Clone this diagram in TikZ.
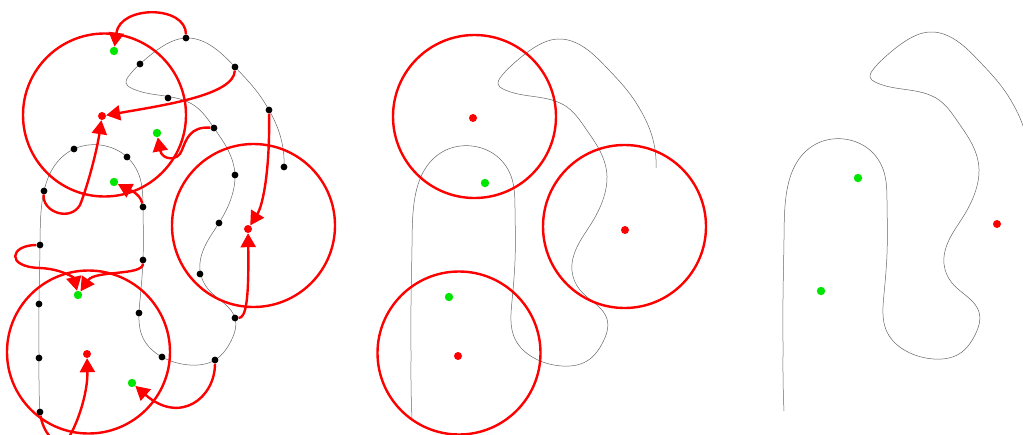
\documentclass[tikz,border=0pt]{standalone}
\usetikzlibrary{arrows.meta,hobby}
\definecolor{gdot}{RGB}{0,230,0}
\definecolor{rdot}{RGB}{255,0,0}
\tikzset{
  curve/.style={draw=black!60, line width=0.5pt},
  bdot/.style={circle, fill=black, inner sep=0pt, minimum size=6.8pt},
  gpt/.style={circle, fill=gdot, inner sep=0pt, minimum size=8.4pt},
  rpt/.style={circle, fill=rdot, inner sep=0pt, minimum size=8pt},
  ring/.style={draw=rdot, line width=2.4pt},
  rarrow/.style={draw=rdot, line width=2.4pt, -{Triangle[length=14pt,width=15pt]}},
}
\begin{document}
\begin{tikzpicture}[x=1pt,y=-1pt]
\useasboundingbox (0,0) rectangle (1023,434);
\clip (0,0) rectangle (1023,434);
% the curve, three times
\foreach \dx/\dy in {0/0,372/1,744/-6}{
  \draw[curve, shift={(\dx,\dy)}, use Hobby shortcut]
    (40,417) .. (39,380) .. (39,358) .. (39,304) .. (40,245) .. (41,212) .. (44,191)
    .. (55,165) .. (74,149) .. (100,145) .. (127,157) .. (140,178) .. (143,207)
    .. (143,260) .. (140,300) .. (139,313) .. (143,338) .. (162,357) .. (190,365)
    .. (215,360) .. (231,341) .. (235,318) .. (226,305) .. (208,289) .. (200,270)
    .. (205,246) .. (219,223) .. (233,192) .. (235,175) .. (228,150) .. (214,128)
    .. (195,106) .. (180,99) .. (158,95) .. (131,88) .. (126,83) .. (128,77)
    .. (140,64) .. (160,48) .. (186,38) .. (210,45) .. (235,67) .. (258,93)
    .. (269,110) .. (280,135) .. (284,167);
}
% panel 1 circles
\draw[ring] (104.5,115) circle (81.5);
\draw[ring] (253.5,225.5) circle (81.5);
\draw[ring] (88.5,352) circle (81.5);
% panel 1 black dots
\node[bdot] (bA) at (186,38) {};
\node[bdot] (bB) at (140,64) {};
\node[bdot] (bC) at (235,67) {};
\node[bdot] (bD) at (168,98) {};
\node[bdot] (bE) at (269,110) {};
\node[bdot] (bF) at (214,128) {};
\node[bdot] (bG) at (74,149) {};
\node[bdot] (bH) at (127,157) {};
\node[bdot] (bI) at (284,167) {};
\node[bdot] (bJ) at (235,175) {};
\node[bdot] (bK) at (44,191) {};
\node[bdot] (bL) at (143,207) {};
\node[bdot] (bM) at (219,223) {};
\node[bdot] (bN) at (40,245) {};
\node[bdot] (bO) at (143,260) {};
\node[bdot] (bP) at (200,274) {};
\node[bdot] (bQ) at (39,304) {};
\node[bdot] (bR) at (139,313) {};
\node[bdot] (bS) at (235,318) {};
\node[bdot] (bT) at (39,358) {};
\node[bdot] (bU) at (162,357) {};
\node[bdot] (bV) at (215,360) {};
\node[bdot] (bW) at (40,412) {};
% panel 1 green and red points
\node[gpt] (g1) at (114,51) {};
\node[gpt] (g2) at (157,133) {};
\node[gpt] (g3) at (114,182) {};
\node[gpt] (g4) at (78,295) {};
\node[gpt] (g5) at (132,383) {};
\node[rpt] (r1) at (102,116) {};
\node[rpt] (r2) at (248,229) {};
\node[rpt] (r3) at (87,354) {};
% panel 1 arrows
\draw[rarrow] (bA) .. controls (186,5) and (120,5) .. (g1);
\draw[rarrow] (bC) .. controls (234,95) and (165,105) .. (r1);
\draw[rarrow] (bE) .. controls (270,170) and (263,205) .. (r2);
\draw[rarrow] (bF) .. controls (190,126) and (186,140) .. (182,150) .. controls (178,162) and (162,160) .. (g2);
\draw[rarrow] (bL) .. controls (140,192) and (125,188) .. (g3);
\draw[rarrow] (bK) .. controls (42,212) and (70,222) .. (80,205) .. controls (88,185) and (97,150) .. (r1);
\draw[rarrow] (bN) .. controls (10,245) and (5,267) .. (40,268) .. controls (62,269) and (74,278) .. (g4);
\draw[rarrow] (bO) .. controls (143,276) and (95,270) .. (g4);
\draw[rarrow] (bS) .. controls (246,318) and (249,300) .. (r2);
\draw[rarrow] (bV) .. controls (215,398) and (180,425) .. (g5);
\draw[rarrow] (bW) .. controls (43,432) and (55,445) .. (62,444) .. controls (70,443) and (88,400) .. (r3);
% panel 2
\draw[ring] (474.5,116.5) circle (81.5);
\draw[ring] (624.5,226.5) circle (81.5);
\draw[ring] (459,353) circle (81.5);
\node[rpt] (s1) at (473,118) {};
\node[rpt] (s2) at (625,230) {};
\node[rpt] (s3) at (458,356) {};
\node[gpt] (h1) at (485,183) {};
\node[gpt] (h2) at (449,297) {};
% panel 3
\node[gpt] (k1) at (858,178) {};
\node[gpt] (k2) at (821,291) {};
\node[rpt] (t1) at (997,224) {};
\end{tikzpicture}
\end{document}
